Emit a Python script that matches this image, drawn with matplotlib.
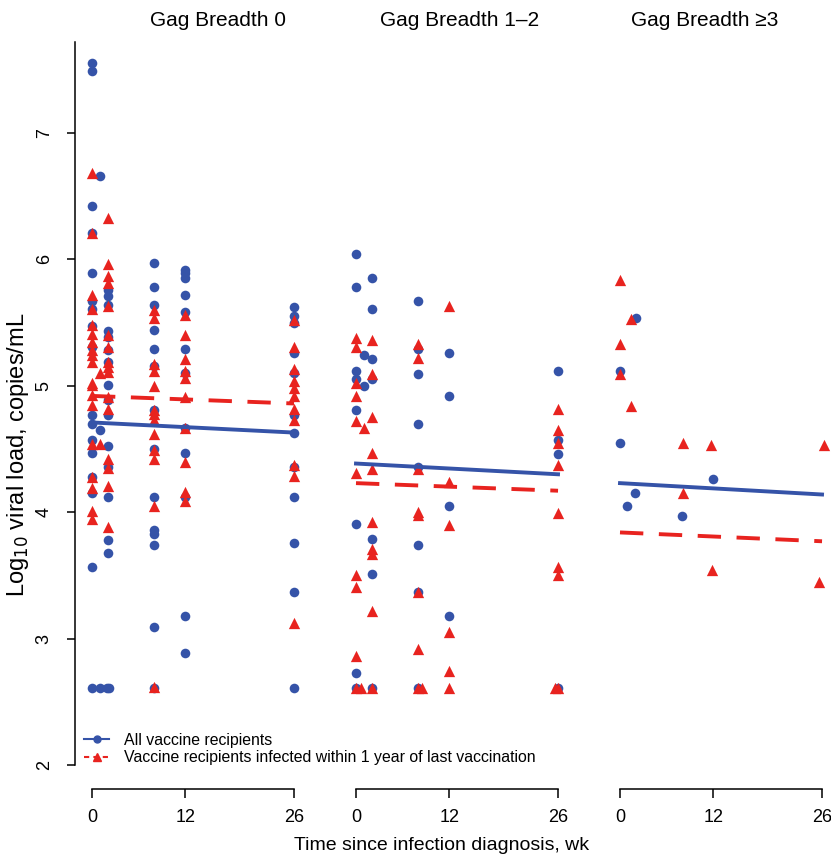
import matplotlib.pyplot as plt
from matplotlib.lines import Line2D

# Log10 viral load per gag breadth group, (week, value)
all_wk_0 = [0]*17 + [1]*3 + [2]*15 + [1.9, 2.2] + [8]*14 + [12]*12 + [26]*12
all_vl_0 = [7.55, 7.49, 6.42, 6.21, 5.89, 5.67, 5.61, 5.47, 5.31, 4.77, 4.70, 4.57, 4.47, 4.28, 4.15, 3.57, 2.61,
            6.66, 4.65, 2.61,
            5.76, 5.71, 5.64, 5.43, 5.39, 5.28, 5.19, 5.01, 4.89, 4.77, 4.52, 4.36, 4.12, 3.78, 3.68, 2.61, 2.61,
            5.97, 5.78, 5.64, 5.44, 5.29, 5.16, 4.81, 4.50, 4.12, 3.86, 3.83, 3.74, 3.09, 2.61,
            5.92, 5.89, 5.85, 5.72, 5.58, 5.29, 5.10, 4.67, 4.47, 4.12, 3.18, 2.89,
            5.62, 5.55, 5.50, 5.26, 5.10, 4.77, 4.63, 4.36, 4.12, 3.76, 3.37, 2.61]
rec_wk_0 = [0]*19 + [1]*2 + [2]*16 + [8]*13 + [12]*10 + [26]*11
rec_vl_0 = [6.68, 6.21, 5.72, 5.61, 5.48, 5.41, 5.35, 5.28, 5.24, 5.19, 5.02, 5.01, 4.93, 4.85, 4.54, 4.28, 4.19, 4.01, 3.95,
            5.10, 4.54,
            6.33, 5.96, 5.87, 5.81, 5.63, 5.40, 5.31, 5.19, 5.15, 5.11, 4.91, 4.82, 4.42, 4.35, 4.21, 3.88,
            5.60, 5.54, 5.17, 5.12, 5.00, 4.81, 4.78, 4.73, 4.62, 4.49, 4.42, 4.05, 2.62,
            5.56, 5.40, 5.21, 5.12, 5.06, 4.91, 4.67, 4.40, 4.16, 4.09,
            5.52, 5.31, 5.13, 5.04, 4.98, 4.92, 4.82, 4.73, 4.37, 4.29, 3.12]

all_wk_1 = [0]*8 + [1]*2 + [2]*7 + [8]*8 + [12]*4 + [26]*4
all_vl_1 = [6.04, 5.78, 5.12, 5.05, 4.81, 3.91, 2.73, 2.61,
            5.24, 5.00,
            5.85, 5.61, 5.21, 5.05, 3.79, 3.51, 2.61,
            5.67, 5.29, 5.09, 4.70, 4.36, 3.74, 3.37, 2.61,
            5.26, 4.92, 4.05, 3.18,
            5.12, 4.57, 4.46, 2.61]
rec_wk_1 = [0]*10 + [0.6] + [1] + [2]*10 + [8]*8 + [8.5] + [12]*6 + [26]*8 + [25.6]
rec_vl_1 = [5.38, 5.31, 5.02, 4.92, 4.72, 4.31, 3.50, 3.41, 2.86, 2.61, 2.61,
            4.67,
            5.36, 5.09, 4.75, 4.47, 4.34, 3.92, 3.71, 3.67, 3.22, 2.61,
            5.33, 5.22, 4.34, 4.00, 3.98, 3.37, 2.92, 2.61, 2.61,
            5.63, 4.24, 3.90, 3.05, 2.74, 2.61,
            4.82, 4.65, 4.55, 4.37, 3.99, 3.57, 3.50, 2.61, 2.61]

all_wk_2 = [2, 0, 0, 12, 1.9, 0.9, 8]
all_vl_2 = [5.54, 5.12, 4.55, 4.26, 4.15, 4.05, 3.97]
rec_wk_2 = [0, 1.4, 0, 0, 1.4, 8.1, 11.7, 26.2, 8.1, 11.9, 25.6]
rec_vl_2 = [5.84, 5.53, 5.33, 5.09, 4.84, 4.55, 4.53, 4.53, 4.15, 3.54, 3.45]

# fitted lines, value at week 0 and week 26
fit_weeks = [0, 26]
fit_all = [[4.71, 4.63], [4.385, 4.30], [4.23, 4.14]]
fit_rec = [[4.92, 4.86], [4.23, 4.17], [3.84, 3.77]]

titles = ['Gag Breadth 0', 'Gag Breadth 1\u20132', 'Gag Breadth \u22653']
title_x = [218, 460, 705]

all_wk = [all_wk_0, all_wk_1, all_wk_2]
all_vl = [all_vl_0, all_vl_1, all_vl_2]
rec_wk = [rec_wk_0, rec_wk_1, rec_wk_2]
rec_vl = [rec_vl_0, rec_vl_1, rec_vl_2]

blue = '#3553A8'
red = '#E8231F'

plt.rcParams['font.family'] = ['Liberation Sans', 'DejaVu Sans']

W, H = 831, 856
fig = plt.figure(figsize=(W / 100, H / 100), dpi=100)

lefts = [74.9, 338.9, 602.9]
width = 226.9
bottom = (H - 765) / H
height = (765 - 42) / H

axes = []
for i in range(3):
    ax = fig.add_axes([lefts[i] / W, bottom, width / W, height])
    ax.set_xlim(-2.2, 27.0)
    ax.set_ylim(2, 7.72)
    ax.scatter(all_wk[i], all_vl[i], s=48, marker='o', color=blue, linewidths=0, zorder=2, clip_on=False)
    ax.scatter(rec_wk[i], rec_vl[i], s=66, marker='^', color=red, linewidths=0, zorder=2, clip_on=False)
    ax.plot(fit_weeks, fit_all[i], color=blue, lw=2.8, zorder=3)
    ax.plot(fit_weeks, fit_rec[i], color=red, lw=2.8, ls=(0, (6, 4)), zorder=3)

    for s in ['top', 'right']:
        ax.spines[s].set_visible(False)
    ax.spines['bottom'].set_position(('outward', 17))
    ax.spines['bottom'].set_bounds(0, 26)
    ax.spines['bottom'].set_linewidth(1.1)
    ax.set_xticks([0, 12, 26])
    ax.tick_params(axis='x', direction='out', length=6.5, width=1.1, labelsize=13, pad=8)
    if i == 0:
        ax.spines['left'].set_linewidth(1.1)
        ax.set_yticks([2, 3, 4, 5, 6, 7])
        ax.tick_params(axis='y', direction='out', length=6, width=1.1, labelsize=13, pad=10,
                       labelrotation=90)
        for lab in ax.get_yticklabels():
            lab.set_va('center')
    else:
        ax.spines['left'].set_visible(False)
        ax.set_yticks([])
    ax.patch.set_alpha(0)
    axes.append(ax)

    fig.text(title_x[i] / W, 1 - 20 / H, titles[i], ha='center', va='center', fontsize=15)

fig.text(18 / W, 1 - 455 / H, 'Log$_{10}$ viral load, copies/mL', rotation=90,
         ha='center', va='center', fontsize=17)
fig.text(442 / W, 1 - 845 / H, 'Time since infection diagnosis, wk',
         ha='center', va='center', fontsize=14)

handles = [
    Line2D([], [], color=blue, marker='o', ms=5, lw=1.5),
    Line2D([], [], color=red, marker='^', ms=6, lw=1.5, ls=(0, (2.5, 2))),
]
axes[0].legend(handles, ['All vaccine recipients',
                         'Vaccine recipients infected within 1 year of last vaccination'],
               loc='upper left', bbox_to_anchor=(84 / W, 1 - 733 / H), bbox_transform=fig.transFigure,
               frameon=False, fontsize=11.4, handlelength=1.6, handletextpad=0.9,
               labelspacing=0.15, borderpad=0, borderaxespad=0)

fig.savefig('out.png', dpi=100)
